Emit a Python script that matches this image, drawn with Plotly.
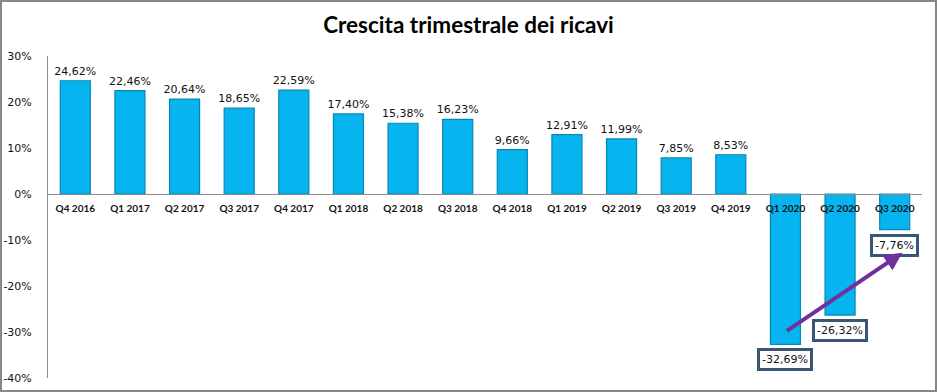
import plotly.graph_objects as go

categories = ["Q4 2016", "Q1 2017", "Q2 2017", "Q3 2017", "Q4 2017", "Q1 2018", "Q2 2018",
              "Q3 2018", "Q4 2018", "Q1 2019", "Q2 2019", "Q3 2019", "Q4 2019",
              "Q1 2020", "Q2 2020", "Q3 2020"]
growth = [24.62, 22.46, 20.64, 18.65, 22.59, 17.40, 15.38, 16.23, 9.66, 12.91,
          11.99, 7.85, 8.53, -32.69, -26.32, -7.76]
y_ticks = [30, 20, 10, 0, -10, -20, -30, -40]
y_tick_text = ["30%", "20%", "10%", "0%", "-10%", "-20%", "-30%", "-40%"]
title = "Crescita trimestrale dei ricavi"

def fmt(v):
    return f"{v:.2f}".replace(".", ",") + "%"

labels = [fmt(v) if v >= 0 else "" for v in growth]

W, H = 937, 392
ML, MR, MT, MB = 48, 15, 56, 14
PW, PH = W - ML - MR, H - MT - MB

fig = go.Figure()
fig.add_trace(go.Bar(
    x=categories, y=growth,
    marker=dict(color="#06b4ef", line=dict(color="#0a86b5", width=1.2)),
    text=labels, textposition="outside", cliponaxis=False, constraintext="none",
    textfont=dict(family="DejaVu Sans", size=11, color="#111111"),
    width=0.55,
))

annotations = []
for c, v in zip(categories, growth):
    if v < 0:
        annotations.append(dict(
            x=c, y=v, xref="x", yref="y", text=fmt(v), showarrow=False,
            yanchor="top", yshift=-4,
            font=dict(family="DejaVu Sans", size=11, color="#111111"),
            bgcolor="white", bordercolor="#3b5575", borderwidth=3, borderpad=2,
        ))

# trend arrow from Q1 2020 towards the Q3 2020 label
i1 = categories.index("Q1 2020")
i3 = categories.index("Q3 2020")
annotations.append(dict(
    x=i3 + 0.14, y=growth[i3] - 5.0, xref="x", yref="y",
    ax=i1, ay=growth[i1] + 2.7, axref="x", ayref="y",
    showarrow=True, arrowhead=2, arrowsize=0.9, arrowwidth=4, arrowcolor="#7030a0",
    text="",
))

zero_pos = (0 - (-40)) / (30 - (-40))

fig.update_layout(
    width=W, height=H,
    margin=dict(l=ML, r=MR, t=MT, b=MB, autoexpand=False),
    paper_bgcolor="white", plot_bgcolor="white",
    showlegend=False,
    title=dict(text=title, x=0.5, xref="container", y=1 - 25 / H, yanchor="middle", xanchor="center",
               font=dict(family="Lato", size=22.5, color="#000000", weight="bold")),
    bargap=0.45,
    xaxis=dict(
        type="category", anchor="free", position=zero_pos,
        showline=True, linecolor="#8c8c8c", linewidth=1,
        ticks="", showgrid=False, zeroline=False, automargin=False,
        tickfont=dict(family="Lato", size=10, color="#111111", weight="bold"),
        ticklabelstandoff=5,
    ),
    yaxis=dict(
        range=[-40, 30], tickvals=y_ticks, ticktext=y_tick_text,
        showline=True, linecolor="#8c8c8c", linewidth=1,
        showgrid=False, zeroline=False, ticks="", automargin=False,
        tickfont=dict(family="DejaVu Sans", size=11, color="#111111"),
        ticklabelstandoff=13,
    ),
    annotations=annotations,
    shapes=[dict(
        type="rect", xref="paper", yref="paper", layer="above",
        x0=-(ML - 1) / PW, x1=1 + (MR - 1) / PW,
        y0=-(MB - 1) / PH, y1=1 + (MT - 1) / PH,
        line=dict(color="#888888", width=2),
    )],
)

fig.write_html("out.html", config={"displayModeBar": False},
               post_script="document.body.style.margin='0';document.body.style.overflow='hidden';")
